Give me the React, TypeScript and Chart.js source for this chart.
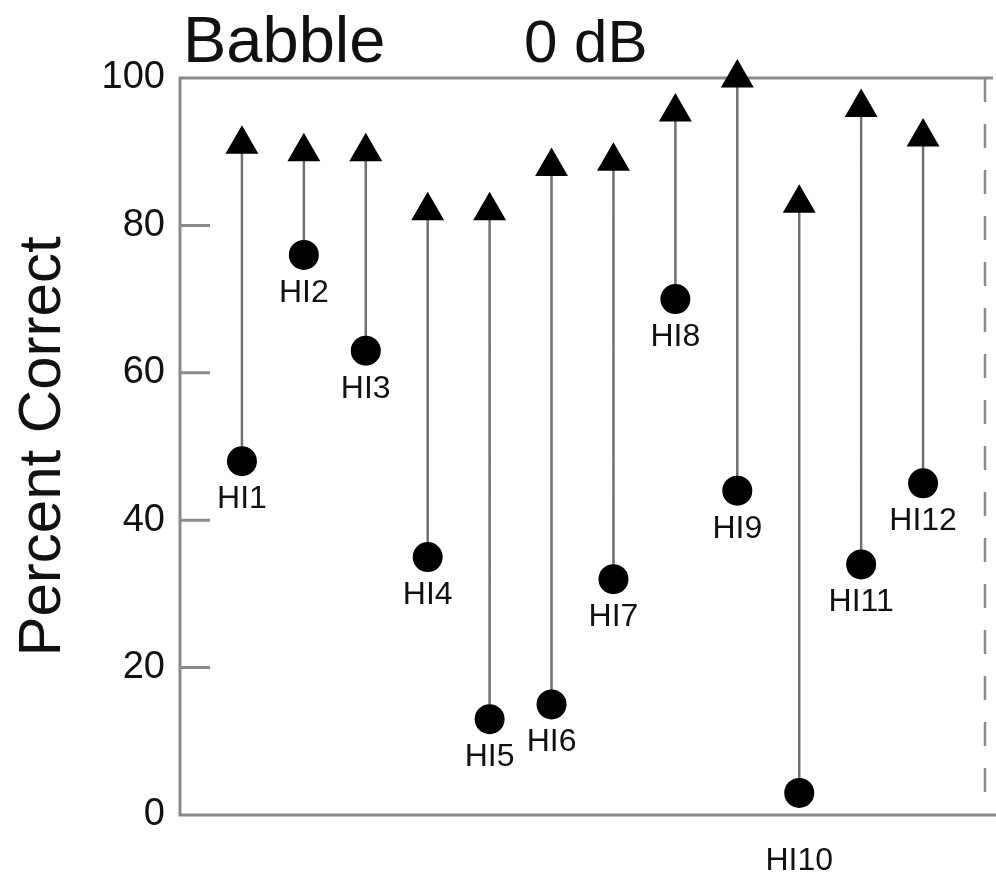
import React, { useEffect, useRef } from "react";
import { Chart, registerables } from "chart.js";

Chart.register(...registerables);

// ---- data ----
const subjects = ["HI1", "HI2", "HI3", "HI4", "HI5", "HI6", "HI7", "HI8", "HI9", "HI10", "HI11", "HI12"];
const circleScores = [48, 76, 63, 35, 13, 15, 32, 70, 44, 3, 34, 45];
const triangleScores = [91, 90, 90, 82, 82, 88, 88.7, 95.4, 100, 83, 96, 92];
const yTickValues = [0, 20, 40, 60, 80, 100];
const innerTickValues = [20, 40, 60, 80];
const titleLeft = "Babble";
const titleRight = "0 dB";
const yAxisTitle = "Percent Correct";

const FONT = "'Liberation Sans', Arial, Helvetica, sans-serif";

const framePlugin = {
  id: "frame",
  beforeDatasetsDraw(chart: any) {
    const { ctx, chartArea, scales } = chart;
    const { left, right, top, bottom } = chartArea;
    const y = scales.y;
    ctx.save();
    ctx.strokeStyle = "#8a8a8a";
    ctx.lineWidth = 3;
    ctx.beginPath();
    ctx.moveTo(left, top - 1.5);
    ctx.lineTo(left, bottom + 1.5);
    ctx.moveTo(left - 1.5, top);
    ctx.lineTo(right + 8, top);
    ctx.moveTo(left - 1.5, bottom);
    ctx.lineTo(chart.width, bottom);
    innerTickValues.forEach((v) => {
      const py = y.getPixelForValue(v);
      ctx.moveTo(left, py);
      ctx.lineTo(left + 30, py);
    });
    ctx.stroke();
    ctx.setLineDash([24, 22]);
    ctx.lineWidth = 2.5;
    ctx.beginPath();
    ctx.moveTo(right, top);
    ctx.lineTo(right, bottom);
    ctx.stroke();
    ctx.restore();
  },
  afterDatasetsDraw(chart: any) {
    const { ctx, chartArea, scales } = chart;
    const { left, top, bottom } = chartArea;
    const xs = scales.x;
    const ys = scales.y;
    ctx.save();
    ctx.fillStyle = "#111";
    ctx.textAlign = "left";
    ctx.textBaseline = "alphabetic";
    ctx.font = `65px ${FONT}`;
    ctx.fillText(titleLeft, left + 3, top - 16);
    ctx.font = `60px ${FONT}`;
    ctx.fillText(titleRight, left + 344, top - 16);

    ctx.font = `32px ${FONT}`;
    ctx.textAlign = "center";
    ctx.textBaseline = "middle";
    subjects.forEach((name, i) => {
      const px = xs.getPixelForValue(i + 1);
      const py = ys.getPixelForValue(circleScores[i]);
      const ly = circleScores[i] < 8 ? bottom + 46 : py + 38;
      ctx.fillText(name, px, ly);
    });
    ctx.restore();
  },
};

export default function App() {
  const canvasRef = useRef<HTMLCanvasElement | null>(null);

  useEffect(() => {
    document.body.style.margin = "0";
    const canvas = canvasRef.current;
    if (!canvas) return;

    const stemData: any[] = [];
    subjects.forEach((_, i) => {
      stemData.push({ x: i + 1, y: circleScores[i] });
      stemData.push({ x: i + 1, y: triangleScores[i] });
      stemData.push({ x: i + 1, y: null });
    });

    const chart = new Chart(canvas, {
      type: "scatter",
      data: {
        datasets: [
          {
            label: "circles",
            data: subjects.map((_, i) => ({ x: i + 1, y: circleScores[i] })),
            pointStyle: "circle",
            pointRadius: 15,
            backgroundColor: "#000",
            borderColor: "#000",
            borderWidth: 0,
            order: 0,
            clip: false,
          } as any,
          {
            label: "triangles",
            data: subjects.map((_, i) => ({ x: i + 1, y: triangleScores[i] })),
            pointStyle: "triangle",
            pointRadius: 19,
            backgroundColor: "#000",
            borderColor: "#000",
            borderWidth: 0,
            order: 0,
            clip: false,
          } as any,
          {
            label: "stems",
            data: stemData,
            showLine: true,
            spanGaps: false,
            pointRadius: 0,
            borderColor: "#707070",
            borderWidth: 2.5,
            order: 2,
            clip: false,
          } as any,
        ],
      },
      options: {
        animation: false,
        responsive: true,
        maintainAspectRatio: false,
        layout: { autoPadding: false, padding: { left: 0, top: 78, right: 11, bottom: 64 } },
        plugins: {
          legend: { display: false },
          tooltip: { enabled: false },
          title: { display: false },
        },
        scales: {
          x: { type: "linear", min: 0, max: 13, display: false },
          y: {
            type: "linear",
            min: 0,
            max: 100,
            afterBuildTicks: (s: any) => {
              s.ticks = yTickValues.map((v) => ({ value: v }));
            },
            afterFit: (s: any) => {
              s.width = 180;
            },
            grid: { display: false, drawTicks: false },
            border: { display: false },
            ticks: {
              font: { size: 38, family: FONT },
              color: "#111",
              padding: 15,
            },
            title: {
              display: true,
              text: yAxisTitle,
              font: { size: 60, family: FONT },
              color: "#111",
              padding: { top: 7, bottom: 0 },
            },
          },
        },
      },
      plugins: [framePlugin],
    } as any);

    return () => chart.destroy();
  }, []);

  return (
    <div style={{ position: "absolute", left: 0, top: 0, width: 996, height: 879 }}>
      <canvas ref={canvasRef} />
    </div>
  );
}
